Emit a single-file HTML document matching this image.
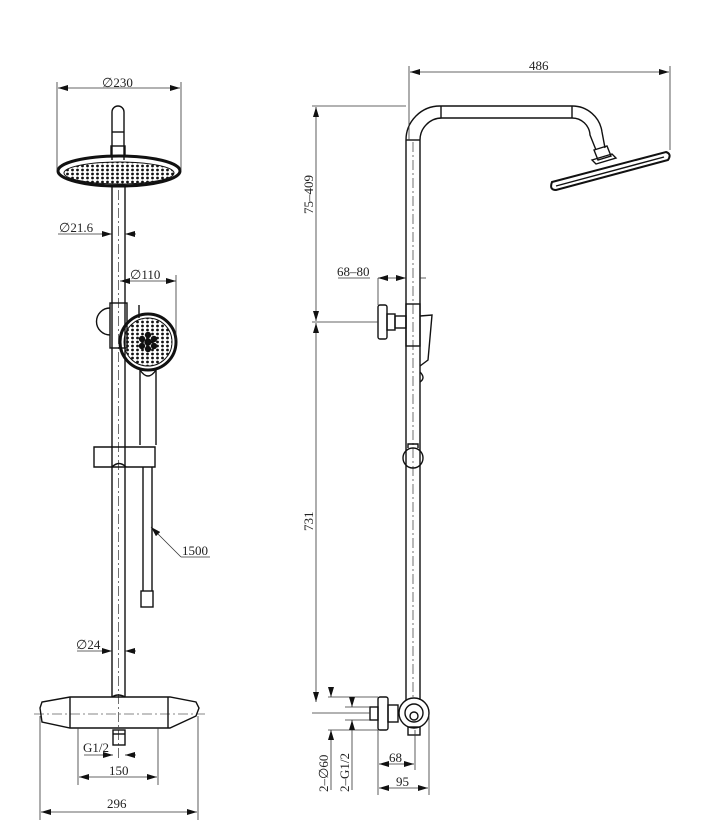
<!DOCTYPE html>
<html><head><meta charset="utf-8"><style>
html,body{margin:0;padding:0;background:#fff;width:706px;height:840px;overflow:hidden}
svg{display:block}
text{font-family:"Liberation Serif",serif;font-size:13px;fill:#222}
</style></head><body>
<svg width="706" height="840" viewBox="0 0 706 840" xmlns="http://www.w3.org/2000/svg">
<defs>
<marker id="a" viewBox="0 0 10 6" refX="10" refY="3" markerWidth="10" markerHeight="6" orient="auto-start-reverse" markerUnits="userSpaceOnUse"><path d="M0,0 L10,3 L0,6z" fill="#111"/></marker>
<pattern id="dots" width="5" height="4" patternUnits="userSpaceOnUse"><circle cx="2.5" cy="2" r="1.4" fill="#111"/></pattern>
</defs>
<g fill="none" stroke="#111" stroke-width="1.4">
<path d="M112,160 V112 A6,6 0 0 1 124,112 V160"/>
<line x1="112" y1="132" x2="124" y2="132"/>
<rect x="111" y="146" width="14" height="10"/>
<ellipse cx="119" cy="171" rx="61" ry="15" stroke-width="3"/>
<ellipse cx="119" cy="173" rx="55" ry="11" fill="url(#dots)" stroke-width="1"/>
<line x1="112" y1="186" x2="112" y2="697"/>
<line x1="125" y1="186" x2="125" y2="697"/>
<line x1="118.5" y1="190" x2="118.5" y2="760" stroke-width="0.6" stroke-dasharray="10,3,2,3"/>
<rect x="110" y="303" width="17" height="45"/>
<path d="M110,308 A11,11 0 0 0 110,335"/>
<line x1="139" y1="305" x2="139" y2="318"/>
<circle cx="148" cy="342" r="28" stroke-width="3"/>
<circle cx="148" cy="342" r="24" fill="url(#dots)" stroke-width="1"/>
<circle cx="148" cy="342" r="3" fill="#111"/>
<circle cx="142" cy="339" r="2.5" fill="#111"/><circle cx="154" cy="339" r="2.5" fill="#111"/><circle cx="142" cy="346" r="2.5" fill="#111"/><circle cx="154" cy="346" r="2.5" fill="#111"/><circle cx="148" cy="335" r="2.5" fill="#111"/><circle cx="148" cy="349" r="2.5" fill="#111"/>
<path d="M140,368 V445 M156,368 V445"/>
<path d="M140,370 Q148,382 156,370"/>
<path d="M94,447 H155 V467 H94 Z"/>
<path d="M112,467 Q119,460 126,467"/>
<path d="M143,467 V591 M152,467 V591"/>
<rect x="141" y="591" width="12" height="16"/>
<path d="M40,708 L42,702 L70,697 L170,697 L196,702 L199,708 L196,716 L170,728 L70,728 L42,722 Z"/>
<path d="M70,697 V728 M168,697 V728"/>
<path d="M112,697 Q118,693 125,697"/>
<rect x="113" y="730" width="12" height="15"/>
<path d="M113,734 H125"/>
<line x1="34" y1="714" x2="205" y2="714" stroke-width="0.6" stroke-dasharray="10,3,2,3"/>
</g>
<g fill="none" stroke="#333" stroke-width="0.8">
<line x1="57" y1="170" x2="57" y2="82"/><line x1="181" y1="170" x2="181" y2="82"/>
<line x1="58" y1="88" x2="180" y2="88" marker-start="url(#a)" marker-end="url(#a)"/>
<line x1="58" y1="234" x2="101" y2="234"/>
<line x1="101" y1="234" x2="112" y2="234" marker-end="url(#a)"/>
<line x1="125" y1="234" x2="136" y2="234" marker-start="url(#a)"/>
<line x1="176" y1="275" x2="176" y2="340"/>
<line x1="120" y1="281" x2="176" y2="281" marker-start="url(#a)" marker-end="url(#a)"/>
<line x1="151" y1="527" x2="181" y2="557" marker-start="url(#a)"/>
<line x1="181" y1="557" x2="210" y2="557"/>
<line x1="77" y1="651" x2="101" y2="651"/>
<line x1="101" y1="651" x2="112" y2="651" marker-end="url(#a)"/>
<line x1="125" y1="651" x2="136" y2="651" marker-start="url(#a)"/>
<line x1="84" y1="755" x2="102" y2="755"/>
<line x1="102" y1="755" x2="113" y2="755" marker-end="url(#a)"/>
<line x1="125" y1="755" x2="136" y2="755" marker-start="url(#a)"/>
<line x1="78" y1="728" x2="78" y2="785"/><line x1="158" y1="728" x2="158" y2="785"/>
<line x1="79" y1="777" x2="157" y2="777" marker-start="url(#a)" marker-end="url(#a)"/>
<line x1="40" y1="716" x2="40" y2="820"/><line x1="198" y1="716" x2="198" y2="820"/>
<line x1="41" y1="812" x2="197" y2="812" marker-start="url(#a)" marker-end="url(#a)"/>
</g>
<text x="102" y="87">∅230</text>
<text x="59" y="232">∅21.6</text>
<text x="130" y="279">∅110</text>
<text x="182" y="555">1500</text>
<text x="76" y="649">∅24</text>
<text x="83" y="752">G1/2</text>
<text x="109" y="775">150</text>
<text x="107" y="808">296</text>

<g fill="none" stroke="#111" stroke-width="1.4">
<path d="M406,700 V140 A34,34 0 0 1 440,106 H572 A30,30 0 0 1 602,132 L605,148"/>
<path d="M420,700 V140 A22,22 0 0 1 442,118 H572 A18,18 0 0 1 590,135 L596,150"/>
<line x1="441" y1="106" x2="441" y2="118"/><line x1="572" y1="106" x2="572" y2="118"/>
<line x1="406" y1="140" x2="420" y2="140"/>
<path d="M594,150 L607,146 L611,156 L598,160 Z"/>
<path d="M592,160 L612,154 L616,158 L596,164 Z"/>
<path d="M552,182 L666,152 Q672,154 668,160 L556,190 Q549,190 552,182 Z" stroke-width="2"/>
<path d="M556,186 L664,157"/>
<line x1="413" y1="142" x2="413" y2="700" stroke-width="0.6" stroke-dasharray="10,3,2,3"/>
<rect x="378" y="305" width="9" height="34" rx="2"/>
<rect x="387" y="314" width="8" height="16"/>
<rect x="395" y="316" width="11" height="12"/>
<rect x="406" y="304" width="14" height="42"/>
<path d="M420,316 L432,315 L428,360 L420,366"/>
<path d="M420,372 Q426,378 420,382"/>
<circle cx="413" cy="458" r="10"/>
<path d="M408,448 V444 H418 V448"/>
<circle cx="414" cy="713" r="15"/>
<circle cx="414" cy="713" r="9"/>
<circle cx="414" cy="716" r="4"/>
<rect x="408" y="727" width="12" height="8"/>
<rect x="378" y="697" width="10" height="33" rx="2"/>
<rect x="370" y="707" width="8" height="13"/>
<rect x="388" y="705" width="10" height="17"/>
</g>
<g fill="none" stroke="#333" stroke-width="0.8">
<line x1="409" y1="66" x2="409" y2="140"/><line x1="670" y1="66" x2="670" y2="150"/>
<line x1="410" y1="72" x2="669" y2="72" marker-start="url(#a)" marker-end="url(#a)"/>
<line x1="312" y1="106" x2="406" y2="106"/>
<line x1="312" y1="322" x2="378" y2="322"/>
<line x1="316" y1="107" x2="316" y2="321" marker-start="url(#a)" marker-end="url(#a)"/>
<line x1="316" y1="323" x2="316" y2="702" marker-start="url(#a)" marker-end="url(#a)"/>
<line x1="312" y1="713" x2="370" y2="713"/>
<line x1="338" y1="278" x2="370" y2="278"/>
<line x1="378" y1="278" x2="378" y2="305"/>
<line x1="378" y1="278" x2="406" y2="278" marker-start="url(#a)" marker-end="url(#a)"/>
<line x1="420" y1="278" x2="426" y2="278"/>
<line x1="328" y1="697" x2="378" y2="697"/><line x1="328" y1="730" x2="378" y2="730"/>
<line x1="345" y1="707" x2="370" y2="707"/><line x1="345" y1="720" x2="370" y2="720"/>
<line x1="331" y1="687" x2="331" y2="697" marker-end="url(#a)"/>
<line x1="331" y1="740" x2="331" y2="730" marker-end="url(#a)"/>
<line x1="331" y1="740" x2="331" y2="790"/>
<line x1="352" y1="697" x2="352" y2="707" marker-end="url(#a)"/>
<line x1="352" y1="730" x2="352" y2="720" marker-end="url(#a)"/>
<line x1="352" y1="730" x2="352" y2="790"/>
<line x1="378" y1="730" x2="378" y2="795"/>
<line x1="415" y1="730" x2="415" y2="770"/>
<line x1="429" y1="715" x2="429" y2="795"/>
<line x1="379" y1="764" x2="414" y2="764" marker-start="url(#a)" marker-end="url(#a)"/>
<line x1="379" y1="788" x2="428" y2="788" marker-start="url(#a)" marker-end="url(#a)"/>
</g>
<text x="529" y="70">486</text>
<text transform="translate(313,214) rotate(-90)">75–409</text>
<text transform="translate(313,531) rotate(-90)">731</text>
<text x="337" y="276">68–80</text>
<text transform="translate(328,792) rotate(-90)">2–∅60</text>
<text transform="translate(349,792) rotate(-90)">2–G1/2</text>
<text x="389" y="762">68</text>
<text x="396" y="786">95</text>
</svg>
</body></html>
